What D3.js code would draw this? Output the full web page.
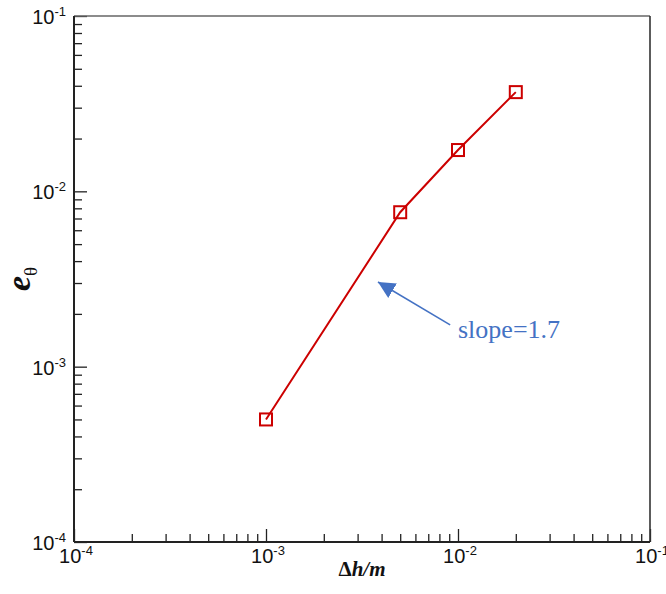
<!DOCTYPE html>
<html>
<head>
<meta charset="utf-8">
<script src="https://cdn.jsdelivr.net/npm/d3@7"></script>
<style>
  html, body { margin: 0; padding: 0; background: #fff; }
  svg { display: block; }
</style>
</head>
<body>
<svg id="chart" width="666" height="594"></svg>
<script>
// Grid spacing Δh/m and the measured error e_θ
const spacing = [1e-3, 5e-3, 1e-2, 2e-2];
const error = [5.0e-4, 7.6e-3, 1.72e-2, 3.68e-2];

// Decade tick values shared by both axes
const decades = [1e-4, 1e-3, 1e-2, 1e-1];
const decadeExponents = ["-4", "-3", "-2", "-1"];

// Slope annotation: arrow tip, arrow tail and label anchor (data coordinates)
const arrowTip = [3.83e-3, 3.04e-3];
const arrowTail = [9.1e-3, 1.73e-3];
const slopeLabelAt = [1.0e-2, 1.45e-3];
const slopeLabel = "slope=1.7";

const svg = d3.select("#chart");
const margin = { left: 74, right: 16, top: 16, bottom: 52 };
const W = 666, H = 594;

const x = d3.scaleLog().domain([1e-4, 1e-1]).range([margin.left, W - margin.right]);
const y = d3.scaleLog().domain([1e-4, 1e-1]).range([H - margin.bottom, margin.top]);

const minors = [];
for (let k = 0; k < decades.length - 1; k++) {
  for (let m = 2; m <= 9; m++) minors.push(m * decades[k]);
}

const axisColor = "#222";

// Minor and major ticks pointing into the plot area
function styleAxis(g) {
  g.select(".domain").remove();
  g.selectAll(".tick line").attr("stroke", axisColor).attr("stroke-width", 1.3);
}
svg.append("g").attr("transform", `translate(0,${y.range()[0]})`)
  .call(d3.axisBottom(x).tickValues(minors).tickSize(-8).tickFormat(""))
  .call(styleAxis);
svg.append("g").attr("transform", `translate(0,${y.range()[0]})`)
  .call(d3.axisBottom(x).tickValues(decades).tickSize(-13).tickFormat(""))
  .call(styleAxis);
svg.append("g").attr("transform", `translate(${x.range()[0]},0)`)
  .call(d3.axisLeft(y).tickValues(minors).tickSize(-8).tickFormat(""))
  .call(styleAxis);
svg.append("g").attr("transform", `translate(${x.range()[0]},0)`)
  .call(d3.axisLeft(y).tickValues(decades).tickSize(-13).tickFormat(""))
  .call(styleAxis);

// Frame
const [x0, x1] = x.range();
const [y0, y1] = y.range();
svg.append("line").attr("x1", x0).attr("x2", x1).attr("y1", y1).attr("y2", y1)
  .attr("stroke", "#666").attr("stroke-width", 1.6);
svg.append("line").attr("x1", x1).attr("x2", x1).attr("y1", y1).attr("y2", y0)
  .attr("stroke", "#333").attr("stroke-width", 1.6);
svg.append("line").attr("x1", x0).attr("x2", x1).attr("y1", y0).attr("y2", y0)
  .attr("stroke", axisColor).attr("stroke-width", 2);
svg.append("line").attr("x1", x0).attr("x2", x0).attr("y1", y1).attr("y2", y0)
  .attr("stroke", axisColor).attr("stroke-width", 2);

// Power-of-ten tick labels
const tickFont = "Liberation Sans, Arial, Helvetica, sans-serif";
function powerLabel(sel) {
  sel.append("tspan").attr("font-size", 20).text("10");
  sel.append("tspan").attr("font-size", 13).attr("dy", -8).text((d, i) => decadeExponents[i]);
}
svg.append("g").selectAll("text").data(decades).join("text")
  .attr("x", d => x(d) + 2).attr("y", y0 + 21)
  .attr("text-anchor", "middle").attr("font-family", tickFont).attr("fill", "#111")
  .call(powerLabel);
svg.append("g").selectAll("text").data(decades).join("text")
  .attr("x", x0 - 8).attr("y", d => y(d) + 8)
  .attr("text-anchor", "end").attr("font-family", tickFont).attr("fill", "#111")
  .call(powerLabel);

// Axis titles
const serif = "Liberation Serif, Times New Roman, serif";
const xTitle = svg.append("text")
  .attr("x", (x0 + x1) / 2).attr("y", 576)
  .attr("text-anchor", "middle").attr("font-family", serif)
  .attr("font-size", 21).attr("font-weight", "bold")
  .attr("fill", "#111");
xTitle.append("tspan").text("Δ");
xTitle.append("tspan").attr("font-style", "italic").text("h/m");

const yTitle = svg.append("text")
  .attr("transform", `translate(30,${(y0 + y1) / 2}) rotate(-90)`)
  .attr("text-anchor", "middle").attr("font-family", serif).attr("fill", "#111");
yTitle.append("tspan").attr("font-size", 34).attr("font-weight", "bold")
  .attr("font-style", "italic").text("e");
yTitle.append("tspan").attr("font-size", 19).attr("dy", 7).text("θ");

// Error curve
const red = "#cc0000";
const pts = spacing.map((s, i) => [s, error[i]]);
svg.append("path")
  .datum(pts)
  .attr("fill", "none").attr("stroke", red).attr("stroke-width", 2)
  .attr("d", d3.line().x(d => x(d[0])).y(d => y(d[1])));

const sq = 12;
svg.append("g").selectAll("rect").data(pts).join("rect")
  .attr("x", d => x(d[0]) - sq / 2).attr("y", d => y(d[1]) - sq / 2)
  .attr("width", sq).attr("height", sq)
  .attr("fill", "none").attr("stroke", red).attr("stroke-width", 2);

// Slope annotation
const blue = "#4472c4";
svg.append("defs").append("marker")
  .attr("id", "arrowhead").attr("viewBox", "0 0 10 10")
  .attr("refX", 10).attr("refY", 5)
  .attr("markerWidth", 17).attr("markerHeight", 17)
  .attr("markerUnits", "userSpaceOnUse")
  .attr("orient", "auto")
  .append("path").attr("d", "M0,0 L10,5 L0,10 Z").attr("fill", blue);

svg.append("line")
  .attr("x1", x(arrowTail[0])).attr("y1", y(arrowTail[1]))
  .attr("x2", x(arrowTip[0])).attr("y2", y(arrowTip[1]))
  .attr("stroke", blue).attr("stroke-width", 1.6)
  .attr("marker-end", "url(#arrowhead)");

svg.append("text")
  .attr("x", x(slopeLabelAt[0])).attr("y", y(slopeLabelAt[1]))
  .attr("font-family", serif).attr("font-size", 26).attr("fill", blue)
  .text(slopeLabel);
</script>
</body>
</html>
